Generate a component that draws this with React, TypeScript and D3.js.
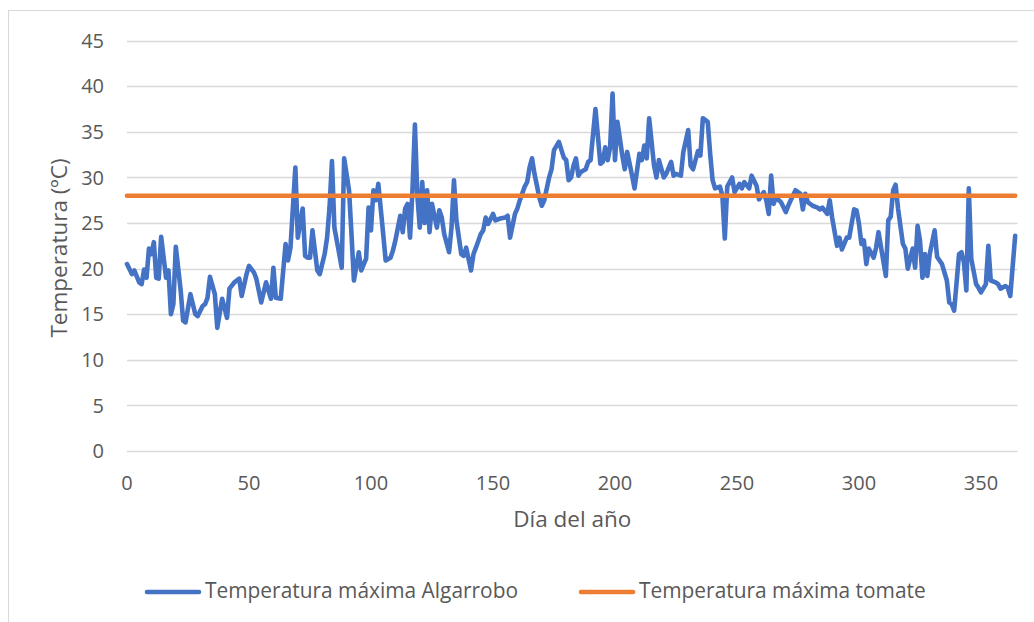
import React from "react";
import * as d3 from "d3";

// Daily maximum temperature at Algarrobo (day of year, °C)
const days: number[] = [
  0, 2, 3, 5, 6, 7, 8, 9, 10, 11, 12, 13, 14, 16, 17, 18, 19, 20, 22, 23, 24, 26, 28, 29, 31, 32, 33, 34, 36, 37,
  39, 41, 42, 44, 46, 47, 49, 50, 52, 53, 55, 57, 59, 60, 61, 63, 65, 66, 67, 69, 70, 72, 73, 74, 75, 76, 78, 79, 81, 82,
  83, 84, 85, 87, 88, 89, 91, 92, 93, 95, 96, 98, 99, 100, 101, 102, 103, 105, 106, 108, 109, 110, 112, 113, 114, 115, 116, 117, 118, 119,
  120, 121, 122, 123, 124, 125, 127, 128, 129, 130, 132, 133, 134, 135, 137, 138, 139, 141, 142, 143, 145, 146, 147, 148, 150, 151, 153, 155, 156, 157,
  159, 160, 161, 163, 164, 165, 166, 167, 169, 170, 171, 173, 174, 175, 177, 179, 180, 181, 182, 183, 184, 185, 186, 188, 189, 190, 192, 194, 195, 196,
  197, 198, 199, 200, 201, 203, 204, 205, 207, 208, 210, 211, 212, 213, 214, 216, 217, 218, 220, 221, 223, 224, 225, 227, 228, 230, 231, 232, 234, 235,
  236, 238, 239, 240, 241, 243, 244, 245, 246, 248, 249, 251, 252, 253, 255, 256, 258, 259, 261, 262, 263, 264, 265, 266, 268, 270, 271, 272, 274, 276,
  277, 278, 279, 281, 283, 284, 285, 287, 288, 289, 291, 292, 293, 295, 296, 298, 299, 300, 301, 302, 303, 304, 306, 307, 308, 309, 311, 312, 313, 314,
  315, 316, 318, 319, 320, 322, 323, 324, 325, 326, 327, 328, 329, 331, 332, 333, 334, 336, 337, 338, 339, 341, 342, 343, 344, 345, 346, 348, 349, 350,
  352, 353, 354, 356, 357, 358, 360, 361, 362, 364,
];

const algarroboMax: number[] = [
  20.5, 19.4, 19.8, 18.5, 18.3, 19.9, 19.0, 22.2, 21.6, 22.9, 19.0, 18.9, 23.5, 19.0, 19.8, 15.0, 16.1, 22.4, 17.6, 14.3, 14.1, 17.2, 15.0, 14.8, 15.9, 16.1, 16.8, 19.1, 17.2, 13.5,
  16.7, 14.6, 17.8, 18.5, 18.9, 17.0, 19.4, 20.3, 19.6, 18.9, 16.3, 18.5, 16.7, 20.1, 16.8, 16.7, 22.7, 20.9, 22.3, 31.1, 23.4, 26.6, 21.4, 21.2, 21.2, 24.2, 19.8, 19.4, 21.6, 23.4,
  26.7, 31.8, 24.5, 21.6, 20.1, 32.1, 28.6, 23.8, 18.7, 21.8, 19.8, 21.1, 26.7, 24.2, 28.6, 27.5, 29.3, 23.8, 20.9, 21.2, 22.0, 23.1, 25.8, 24.0, 26.6, 27.1, 23.4, 28.6, 35.8, 28.0,
  24.5, 29.5, 25.0, 28.6, 24.0, 27.1, 24.5, 26.4, 25.6, 23.8, 21.8, 24.5, 29.7, 25.3, 21.6, 21.4, 22.3, 19.8, 21.6, 22.3, 23.8, 24.2, 25.6, 24.9, 26.0, 25.3, 25.5, 25.6, 25.8, 23.4,
  26.0, 26.6, 27.5, 29.0, 29.5, 31.1, 32.1, 30.4, 27.8, 26.9, 27.5, 30.0, 30.9, 33.0, 33.9, 32.2, 31.9, 29.7, 30.0, 31.3, 32.1, 30.2, 30.6, 30.9, 31.7, 31.9, 37.5, 31.5, 31.7, 33.3,
  31.9, 33.3, 39.2, 31.9, 36.1, 32.4, 30.9, 32.8, 30.2, 28.8, 32.6, 31.9, 33.5, 32.1, 36.5, 31.3, 30.0, 31.9, 30.0, 30.4, 31.7, 30.2, 30.4, 30.2, 32.8, 35.2, 31.3, 30.9, 32.9, 32.4,
  36.5, 36.1, 32.6, 29.7, 28.8, 29.0, 28.0, 23.3, 29.0, 30.0, 28.4, 29.3, 28.8, 29.5, 28.8, 30.2, 29.1, 27.6, 28.4, 27.5, 26.0, 30.2, 27.1, 27.8, 27.3, 26.2, 26.9, 27.5, 28.6, 28.2,
  26.5, 28.2, 27.3, 26.9, 26.7, 26.5, 26.7, 26.0, 27.5, 25.6, 22.5, 23.4, 22.1, 23.4, 23.4, 26.5, 26.4, 24.9, 22.7, 23.1, 20.5, 22.2, 21.2, 22.3, 24.0, 22.4, 19.2, 25.3, 25.7, 28.6,
  29.2, 26.6, 22.7, 22.2, 20.0, 22.2, 20.1, 24.7, 23.1, 19.0, 21.6, 19.2, 21.6, 24.2, 21.3, 20.9, 20.5, 18.7, 16.3, 16.1, 15.4, 21.6, 21.8, 20.7, 17.6, 28.8, 21.1, 18.3, 17.9, 17.4,
  18.3, 22.5, 18.7, 18.5, 18.3, 17.8, 18.1, 17.9, 17.0, 23.6,
];

// Maximum temperature tolerated by tomato (°C)
const tomatoMax = 28;

const xTicks: number[] = [0, 50, 100, 150, 200, 250, 300, 350];
const yTicks: number[] = [0, 5, 10, 15, 20, 25, 30, 35, 40, 45];

const seriesNames: string[] = ["Temperatura máxima Algarrobo", "Temperatura máxima tomate"];
const seriesColors: string[] = ["#4472C4", "#ED7D31"];

const W = 1034;
const H = 622;
const FONT = "'Open Sans', 'Noto Sans', sans-serif";
const TEXT = "#595959";

export default function App() {
  const x = d3.scaleLinear().domain([0, 365]).range([127, 1017.6]);
  const y = d3.scaleLinear().domain([0, 45]).range([451, 40.7]);

  const points: [number, number][] = days.map((d, i) => [d, algarroboMax[i]]);
  const line = d3
    .line<[number, number]>()
    .x((p) => x(p[0]))
    .y((p) => y(p[1]))
    .curve(d3.curveLinear);

  const tomatoPath = line([
    [days[0], tomatoMax],
    [days[days.length - 1], tomatoMax],
  ]) as string;

  const legendItems = [
    { name: seriesNames[0], color: seriesColors[0], x0: 145 },
    { name: seriesNames[1], color: seriesColors[1], x0: 579 },
  ];

  return (
    <svg
      width={W}
      height={H}
      style={{ position: "absolute", left: 0, top: 0, background: "#fff" }}
      fontFamily={FONT}
    >
      <rect x={0} y={0} width={W} height={H} fill="#fff" />
      <rect x={8.5} y={10.5} width={W + 20} height={H + 20} fill="none" stroke="#d9d9d9" strokeWidth={1} />

      {/* horizontal gridlines */}
      {yTicks.map((t) => (
        <line
          key={"g" + t}
          x1={x(0)}
          x2={x(365)}
          y1={Math.round(y(t)) + 0.5}
          y2={Math.round(y(t)) + 0.5}
          stroke="#d9d9d9"
          strokeWidth={1.3}
        />
      ))}

      {/* y tick labels */}
      {yTicks.map((t) => (
        <text key={"yl" + t} x={104} y={y(t)} dy="0.36em" textAnchor="end" fontSize={20} fill={TEXT}>
          {t}
        </text>
      ))}

      {/* x tick labels */}
      {xTicks.map((t) => (
        <text key={"xl" + t} x={x(t)} y={490} textAnchor="middle" fontSize={20} fill={TEXT}>
          {t}
        </text>
      ))}

      {/* axis titles */}
      <text x={x(182.5)} y={527} textAnchor="middle" fontSize={22.5} fill={TEXT}>
        Día del año
      </text>
      <text
        transform={`translate(67, 248) rotate(-90)`}
        textAnchor="middle"
        fontSize={22.5}
        fill={TEXT}
      >
        Temperatura (ºC)
      </text>

      {/* series */}
      <path
        d={line(points) as string}
        fill="none"
        stroke={seriesColors[0]}
        strokeWidth={4.6}
        strokeLinejoin="round"
        strokeLinecap="round"
      />
      <path
        d={tomatoPath}
        fill="none"
        stroke={seriesColors[1]}
        strokeWidth={4.6}
        strokeLinecap="round"
      />

      {/* legend */}
      {legendItems.map((it) => (
        <g key={it.name}>
          <line
            x1={it.x0 + 2}
            x2={it.x0 + 54}
            y1={592}
            y2={592}
            stroke={it.color}
            strokeWidth={4.6}
            strokeLinecap="round"
          />
          <text x={it.x0 + 60} y={598} fontSize={20.9} fill={TEXT}>
            {it.name}
          </text>
        </g>
      ))}
    </svg>
  );
}
